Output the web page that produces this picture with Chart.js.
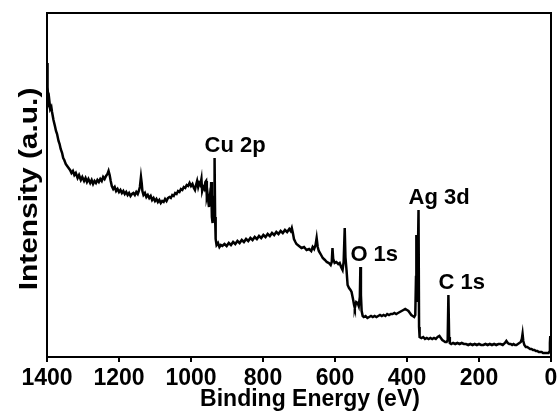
<!DOCTYPE html>
<html>
<head>
<meta charset="utf-8">
<script src="https://cdn.jsdelivr.net/npm/chart.js@4.4.0/dist/chart.umd.min.js"></script>
<style>
    html, body { margin: 0; padding: 0; background: #fff; }
    canvas { display: block; }
</style>
</head>
<body>
<canvas id="xps-chart" width="557" height="414"></canvas>
<script>
// XPS survey spectrum, binding energy in eV (descending) and intensity in arbitrary units
const bindingEnergy = [
    1400, 1399, 1398, 1396, 1394, 1391, 1388, 1386, 1382, 1378, 1375, 1372, 1368, 1365, 1362, 1358,
    1355, 1352, 1348, 1344, 1340, 1336, 1332, 1328, 1324, 1320, 1315, 1311, 1306, 1302, 1297, 1293,
    1289, 1285, 1280, 1276, 1272, 1268, 1264, 1260, 1256, 1252, 1248, 1244, 1240, 1236, 1232, 1229, 1226,
    1223, 1220, 1216, 1212, 1208, 1204, 1200, 1196, 1192, 1188, 1184, 1180, 1176, 1172, 1168, 1164,
    1160, 1156, 1152, 1148, 1145, 1142, 1139, 1137, 1135, 1132, 1128, 1124, 1120, 1116, 1112, 1108,
    1104, 1100, 1096, 1092, 1088, 1084, 1080, 1076, 1072, 1068, 1064, 1060, 1056, 1052, 1048, 1044,
    1040, 1036, 1032, 1028, 1024, 1020, 1016, 1012, 1008,
    1004, 1000, 996, 992, 989, 986, 983, 980, 977, 974, 971, 969, 966, 963, 960, 958, 956, 954, 952,
    950, 948, 946, 944, 942, 940, 938, 936, 934.5, 933, 931.5, 929, 925,
    921, 917, 913, 907, 901, 895, 889, 883, 877, 871, 865, 859, 853, 847, 841, 835, 829, 823, 817,
    811, 805, 799, 793, 787, 781, 775, 769, 763, 757, 751, 745, 739, 733, 727, 723,
    720, 717, 714, 710, 707, 700, 693, 686, 679, 672, 666, 662, 658, 654, 651, 648, 645, 640, 634,
    628, 623, 617, 612, 609, 607, 605, 601, 596, 591, 587, 583, 579, 576, 573, 571, 568, 565, 561,
    557, 554, 550, 547, 545, 541, 537, 534, 531, 529.5, 528, 526, 523,
    520, 515, 510, 505, 500, 495, 490, 485, 480, 475, 470, 465, 460, 455, 450, 445, 440, 435, 430,
    425, 420, 415, 410, 405, 400, 396, 392, 388, 384, 380, 377, 375, 374, 372, 371, 369.5, 368, 366.5, 365,
    360, 355, 350, 345, 340, 335, 330, 325, 320, 315, 310, 306, 302, 298, 294, 290, 287, 285, 283,
    281, 277, 272, 266, 260, 254, 248, 242, 236, 230, 224, 218, 212, 206, 200, 194, 188, 182, 176,
    170, 164, 158, 152, 146, 140, 134, 128, 124, 120, 116, 112, 108, 104, 100, 96, 92, 88, 84, 81,
    79, 77, 74, 70, 66, 62, 58, 54, 50, 46, 42, 38, 34, 30, 26, 22, 18, 14, 10, 7, 5, 3, 2, 1, 0
];
const intensity = [
    294, 262, 270, 255, 258, 248, 250, 245, 237, 231, 226, 223, 216, 213, 208, 204,
    199, 197, 193, 191, 189, 187, 184, 186, 182, 184, 179, 182, 177, 180, 176, 179,
    175, 178, 174, 177, 173, 176, 174, 177, 175, 178, 176, 180, 178, 181, 183, 186, 182,
    176, 171, 168, 170, 166, 168, 165, 167, 164, 166, 163, 165, 162, 164, 161, 163,
    164, 162, 165, 163, 166, 170, 180, 174, 166, 162, 164, 160, 162, 159, 161, 157,
    159, 156, 158, 155, 157, 154, 156, 155, 158, 156, 159, 160, 159, 162, 161, 164,
    163, 166, 165, 168, 167, 170, 169, 172, 171,
    174, 171, 173, 169, 167, 172, 176, 170, 174, 172, 178, 166, 170, 168, 175, 176, 160, 163, 156,
    150, 158, 152, 175, 140, 134, 150, 160, 199, 140, 118, 112, 114,
    110, 112, 111, 113, 111, 114, 112, 115, 113, 116, 114, 117, 115, 118, 116, 119, 117, 120, 118,
    121, 119, 122, 120, 123, 121, 124, 122, 125, 123, 126, 124, 127, 125, 128, 126,
    129, 124, 118, 115, 113, 111, 109, 110, 107, 108, 106, 110, 108, 112, 119, 110, 106, 103, 99,
    97, 95, 94, 92, 95, 109, 98, 94, 95, 93, 94, 90, 87, 95, 129, 100, 87, 72, 69,
    67, 65, 58, 52, 49, 55, 54, 51, 60, 90, 62, 46, 41,
    40, 41, 39, 40, 41, 40, 41, 40, 41, 42, 41, 42, 41, 43, 42, 43, 43, 44, 43,
    44, 45, 46, 47, 48, 47, 46, 44, 42, 41, 40, 42, 80, 122, 95, 55, 90, 147, 30, 20,
    19, 20, 18, 19, 18, 19, 18, 19, 18, 20, 21, 19, 17, 16, 15, 15, 17, 62, 20,
    14, 13, 14, 13, 14, 13, 14, 13, 13, 12, 13, 12, 13, 12, 13, 12, 12, 13, 12,
    13, 12, 13, 12, 13, 13, 12, 14, 16, 14, 13, 13, 12, 13, 12, 12, 13, 14, 15, 18,
    23, 16, 12, 10, 10, 9, 8, 8, 7, 7, 6, 6, 5, 5, 5, 4, 4, 4, 4, 4, 5, 14, 21, 8, 4
];

const xTicks = [1400, 1200, 1000, 800, 600, 400, 200, 0];
const peakNames = ['Cu 2p', 'O 1s', 'Ag 3d', 'C 1s'];
const peakEnergies = [934.5, 529.5, 368, 285];
const xTitle = 'Binding Energy (eV)';
const yTitle = 'Intensity (a.u.)';

const FONT = '"Liberation Sans", Arial, sans-serif';

// top/right frame, peak names and the two axis titles
const frameAndLabels = {
    id: 'frameAndLabels',
    afterDraw(chart) {
        const { ctx, chartArea, scales } = chart;
        ctx.save();
        ctx.strokeStyle = '#000';
        ctx.lineWidth = 2;
        ctx.beginPath();
        ctx.moveTo(chartArea.left, chartArea.top);
        ctx.lineTo(chartArea.right, chartArea.top);
        ctx.lineTo(chartArea.right, chartArea.bottom);
        ctx.stroke();

        ctx.fillStyle = '#000';
        ctx.font = `bold 22px ${FONT}`;
        ctx.textAlign = 'left';
        ctx.textBaseline = 'alphabetic';
        peakNames.forEach((name, i) => {
            const e = peakEnergies[i];
            let top = 0;
            bindingEnergy.forEach((be, j) => {
                if (Math.abs(be - e) <= 3 && intensity[j] > top) top = intensity[j];
            });
            const px = scales.x.getPixelForValue(e);
            const py = scales.y.getPixelForValue(top);
            ctx.fillText(name, px - 10, py - 6);
        });

        ctx.font = `bold 23px ${FONT}`;
        ctx.textAlign = 'center';
        ctx.fillText(xTitle, (chartArea.left + chartArea.right) / 2 + 11, 406);

        ctx.translate(37, (chartArea.top + chartArea.bottom) / 2 + 4);
        ctx.rotate(-Math.PI / 2);
        ctx.scale(1.15, 1);
        ctx.font = `bold 26px ${FONT}`;
        ctx.fillText(yTitle, 0, 0);
        ctx.restore();
    }
};

new Chart(document.getElementById('xps-chart'), {
    type: 'line',
    data: {
        datasets: [{
            data: bindingEnergy.map((e, i) => ({ x: e, y: intensity[i] })),
            borderColor: '#000',
            borderWidth: 2.5,
            pointRadius: 0,
            tension: 0,
            fill: false
        }]
    },
    options: {
        responsive: false,
        animation: false,
        devicePixelRatio: 1,
        layout: { padding: { top: 13, right: 0, bottom: 0, left: 0 } },
        plugins: {
            legend: { display: false },
            tooltip: { enabled: false }
        },
        scales: {
            x: {
                type: 'linear',
                reverse: true,
                min: 0,
                max: 1400,
                afterBuildTicks: scale => { scale.ticks = xTicks.map(v => ({ value: v })); },
                afterFit: scale => {
                    scale.height = 57;
                    scale.paddingLeft = 0;
                    scale.paddingRight = 6;
                },
                ticks: {
                    color: '#000',
                    font: { family: FONT, size: 23, weight: 'bold' },
                    padding: 3,
                    maxRotation: 0,
                    autoSkip: false,
                    callback: value => String(value)
                },
                grid: { drawOnChartArea: false, drawTicks: true, tickLength: 5, color: '#000', lineWidth: 2 },
                border: { display: true, color: '#000', width: 2 }
            },
            y: {
                min: 0,
                max: 344,
                afterFit: scale => { scale.width = 47; },
                ticks: { display: false },
                grid: { display: false },
                border: { display: true, color: '#000', width: 2 }
            }
        }
    },
    plugins: [frameAndLabels]
});
</script>
</body>
</html>
